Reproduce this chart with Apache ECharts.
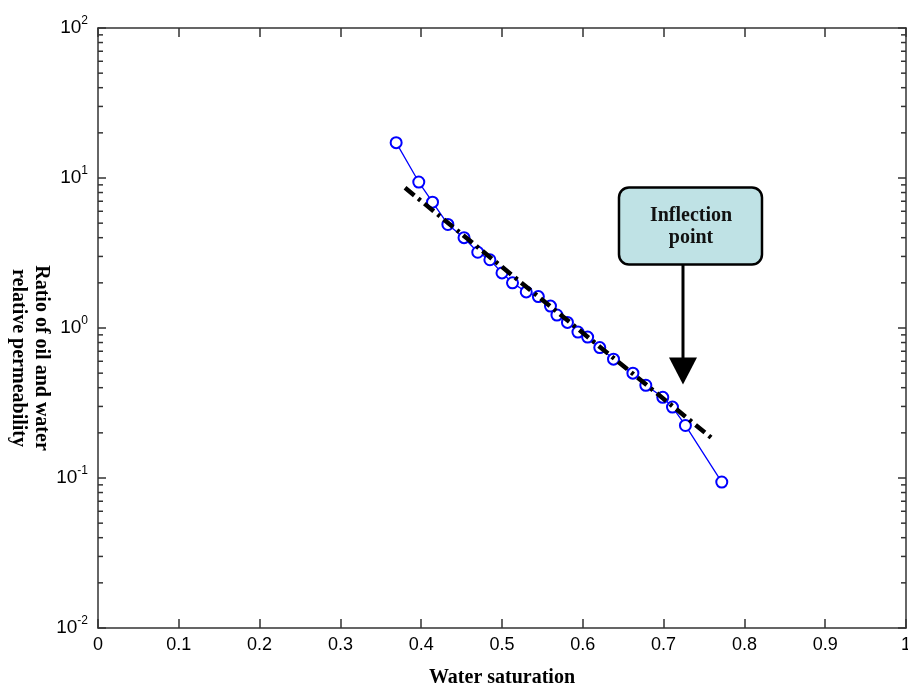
<!DOCTYPE html>
<html>

<head>
    <meta charset="utf-8">
    <title></title>
    <script src="https://cdn.jsdelivr.net/npm/echarts@6/dist/echarts.min.js"></script>
    <style>
        html,
        body {
            margin: 0;
            padding: 0;
            background: #fff;
        }

        #main {
            width: 908px;
            height: 685px;
        }
    </style>
</head>

<body>
    <div id="main"></div>
    <script type="text/javascript">
        // measured points (water saturation / ratio kro/krw)
        var satValues = [0.369, 0.397, 0.414, 0.433, 0.453, 0.470, 0.485, 0.500, 0.513, 0.530, 0.545, 0.560, 0.568, 0.581, 0.594, 0.606, 0.621, 0.638, 0.662, 0.678, 0.699, 0.711, 0.727, 0.772];
        var ratioValues = [17.2, 9.4, 6.9, 4.9, 4.0, 3.2, 2.85, 2.33, 2.0, 1.74, 1.62, 1.40, 1.22, 1.09, 0.94, 0.87, 0.74, 0.62, 0.50, 0.415, 0.345, 0.297, 0.224, 0.094];
        // fitted straight line (dash-dot)
        var trendX = [0.380, 0.762];
        var trendY = [8.6, 0.18];
        var xTicks = [0, 0.1, 0.2, 0.3, 0.4, 0.5, 0.6, 0.7, 0.8, 0.9, 1];
        var yDecades = [0.01, 0.1, 1, 10, 100];
        // log minor tick positions 2..9 in every decade
        var minorTicks = [];
        for (var k = 0; k < yDecades.length - 1; k++) {
            for (var m = 2; m <= 9; m++) {
                minorTicks.push(+(m * yDecades[k]).toPrecision(3));
            }
        }

        var myChart = echarts.init(document.getElementById('main'));

        var axisColor = '#333';
        var labelFont = "'Liberation Sans Narrow', 'Liberation Sans', Arial, sans-serif";
        var serif = "'Liberation Serif', 'DejaVu Serif', serif";

        function frameAxis(pos) {
            return {
                show: true,
                position: pos,
                axisLine: { show: true, onZero: false, lineStyle: { color: axisColor, width: 1.5 } },
                axisTick: { show: true, inside: true, length: pos == 'top' || pos == 'bottom' ? 9 : 8, lineStyle: { color: axisColor, width: 1.5 } },
                splitLine: { show: false }
            };
        }

        var xBottom = frameAxis('bottom');
        xBottom.type = 'value';
        xBottom.min = 0;
        xBottom.max = 1;
        xBottom.interval = 0.1;
        xBottom.axisLabel = {
            margin: 8,
            fontFamily: labelFont,
            fontSize: 18,
            color: '#000',
            formatter: function (v) {
                return xTicks.indexOf(+v.toFixed(1)) >= 0 ? String(+v.toFixed(1)) : '';
            }
        };
        xBottom.name = 'Water saturation';
        xBottom.nameLocation = 'middle';
        xBottom.nameGap = 40;
        xBottom.nameTextStyle = { fontFamily: serif, fontWeight: 'bold', fontSize: 20, color: '#000' };

        var xTop = frameAxis('top');
        xTop.type = 'value';
        xTop.min = 0;
        xTop.max = 1;
        xTop.interval = 0.1;
        xTop.axisLabel = { show: false };

        var yLeft = frameAxis('left');
        yLeft.type = 'log';
        yLeft.logBase = 10;
        yLeft.min = 0.01;
        yLeft.max = 100;
        yLeft.axisLabel = {
            margin: 10,
            color: '#000',
            formatter: function (v) {
                var e = Math.round(Math.log10(v));
                return '{b|10}{s|' + e + '}';
            },
            rich: {
                b: { fontFamily: "'Liberation Sans', Arial, sans-serif", fontSize: 19, color: '#000' },
                s: { fontFamily: "'Liberation Sans', Arial, sans-serif", fontSize: 12, color: '#000', verticalAlign: 'bottom', padding: [0, 0, 14, 0] }
            }
        };

        var yRight = frameAxis('right');
        yRight.type = 'log';
        yRight.logBase = 10;
        yRight.min = 0.01;
        yRight.max = 100;
        yRight.axisLabel = { show: false };

        var option = {
            animation: false,
            backgroundColor: '#fff',
            grid: { left: 98, right: 2, top: 28, bottom: 57, containLabel: false, outerBoundsMode: 'none' },
            xAxis: [xBottom, xTop],
            yAxis: [yLeft, yRight],
            series: [{
                // minor log ticks on both vertical axes
                type: 'custom',
                xAxisIndex: 0,
                yAxisIndex: 0,
                silent: true,
                clip: false,
                data: minorTicks.map(function (v) { return [0, v]; }),
                renderItem: function (params, api) {
                    var v = api.value(1);
                    var pl = api.coord([0, v]);
                    var pr = api.coord([1, v]);
                    var st = { stroke: axisColor, lineWidth: 1.5 };
                    return {
                        type: 'group',
                        children: [
                            { type: 'line', shape: { x1: pl[0], y1: pl[1], x2: pl[0] + 5, y2: pl[1] }, style: st },
                            { type: 'line', shape: { x1: pr[0], y1: pr[1], x2: pr[0] - 5, y2: pr[1] }, style: st }
                        ]
                    };
                },
                z: 1
            }, {
                name: 'data',
                type: 'line',
                data: satValues.map(function (x, i) { return [x, ratioValues[i]]; }),
                symbol: 'emptyCircle',
                symbolSize: 11,
                showAllSymbol: true,
                itemStyle: { color: '#0000ff', borderWidth: 1.8 },
                lineStyle: { color: '#0000ff', width: 1.3 },
                z: 2
            }, {
                name: 'fit',
                type: 'line',
                data: trendX.map(function (x, i) { return [x, trendY[i]]; }),
                showSymbol: false,
                symbol: 'none',
                lineStyle: { color: '#000', width: 4.5, type: [12, 5, 3, 5] },
                z: 3
            }]
        };
        myChart.setOption(option);

        // annotation box + arrow, anchored at the inflection point
        var tip = myChart.convertToPixel({ xAxisIndex: 0, yAxisIndex: 0 }, [0.724, 0.42]);
        var tx = tip[0], ty = tip[1];
        myChart.setOption({
            graphic: [{
                type: 'text',
                x: 30,
                y: 358,
                rotation: -Math.PI / 2,
                style: {
                    text: 'Ratio of oil and water\nrelative permeability',
                    fontFamily: serif,
                    fontWeight: 'bold',
                    fontSize: 20,
                    lineHeight: 23,
                    align: 'center',
                    verticalAlign: 'middle',
                    fill: '#000'
                }
            }, {
                type: 'rect',
                shape: { x: tx - 64, y: ty - 197, width: 143, height: 77, r: 10 },
                style: { fill: '#bfe2e5', stroke: '#000', lineWidth: 2.5 },
                z: 10
            }, {
                type: 'text',
                x: tx + 8,
                y: ty - 158,
                style: {
                    text: 'Inflection\npoint',
                    fontFamily: serif,
                    fontWeight: 'bold',
                    fontSize: 20,
                    lineHeight: 22,
                    align: 'center',
                    verticalAlign: 'middle',
                    fill: '#111'
                },
                z: 11
            }, {
                type: 'line',
                shape: { x1: tx, y1: ty - 120, x2: tx, y2: ty - 24 },
                style: { stroke: '#000', lineWidth: 3 },
                z: 10
            }, {
                type: 'polygon',
                shape: { points: [[tx - 14, ty - 27], [tx + 14, ty - 27], [tx, ty]] },
                style: { fill: '#000' },
                z: 10
            }]
        });
    </script>
</body>

</html>
